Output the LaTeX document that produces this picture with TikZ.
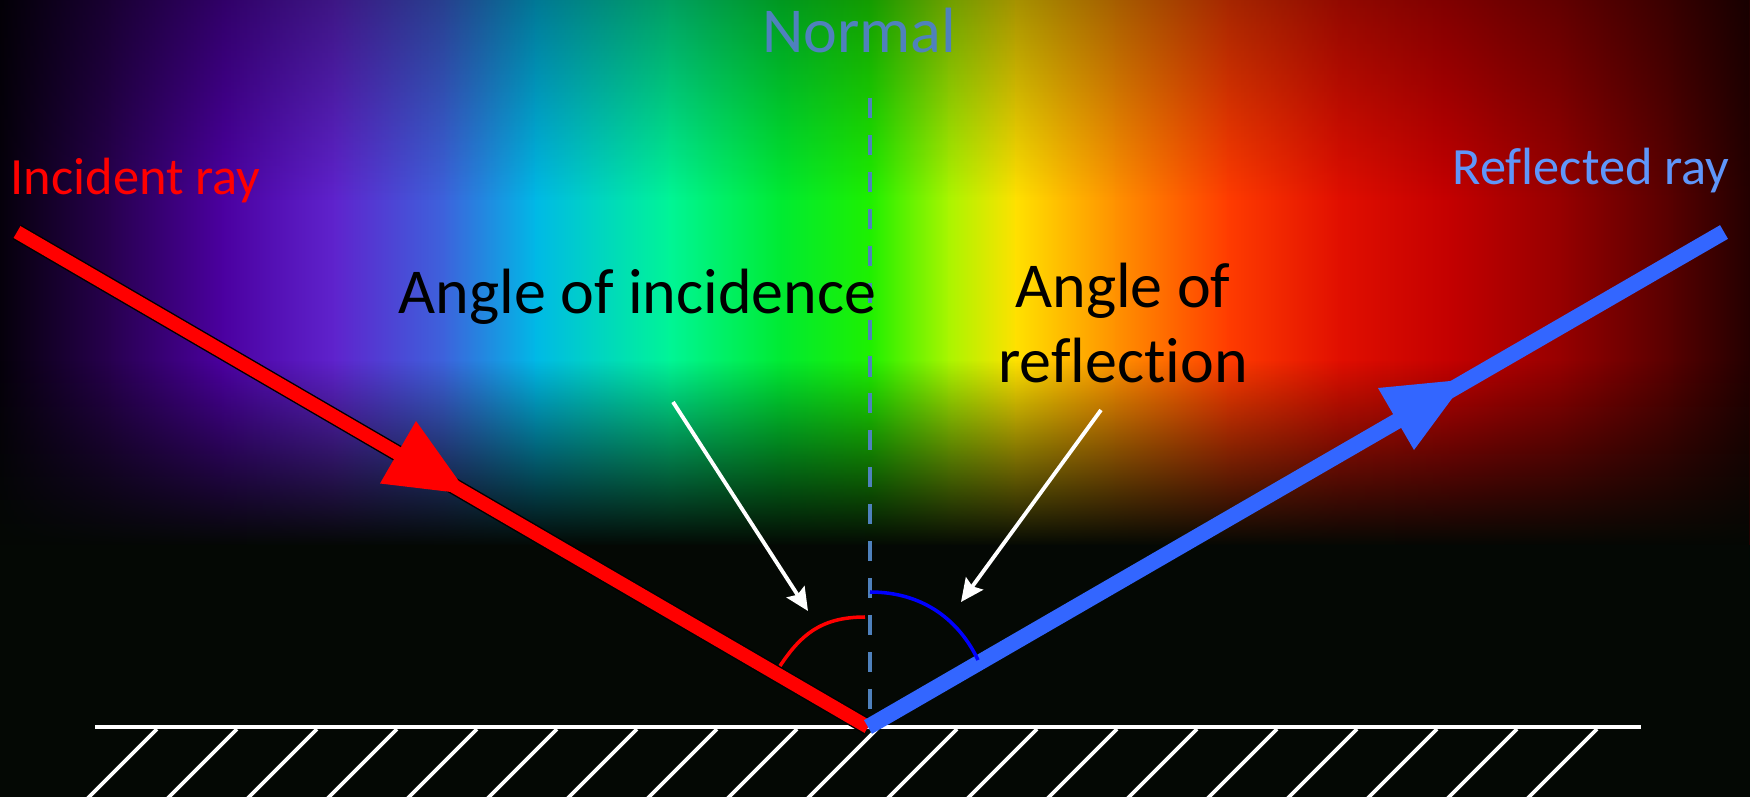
\documentclass[tikz,border=0pt]{standalone}
\usepackage{fontspec}
\setmainfont{Carlito}[Ligatures=NoCommon]
\usetikzlibrary{arrows.meta,fadings}
\definecolor{s0}{RGB}{5,0,10}
\definecolor{s1}{RGB}{40,0,80}
\definecolor{s2}{RGB}{75,0,160}
\definecolor{s3}{RGB}{95,35,205}
\definecolor{s4}{RGB}{60,100,220}
\definecolor{s5}{RGB}{0,185,230}
\definecolor{s6}{RGB}{0,245,150}
\definecolor{s7}{RGB}{0,235,50}
\definecolor{s8}{RGB}{30,240,0}
\definecolor{s9}{RGB}{170,245,0}
\definecolor{s10}{RGB}{255,225,0}
\definecolor{s11}{RGB}{255,145,0}
\definecolor{s12}{RGB}{255,60,0}
\definecolor{s13}{RGB}{225,15,0}
\definecolor{s14}{RGB}{195,0,0}
\definecolor{s15}{RGB}{150,0,0}
\definecolor{s16}{RGB}{85,0,0}
\definecolor{s17}{RGB}{35,0,0}
\definecolor{bgdark}{RGB}{4,8,4}
\definecolor{normalblue}{RGB}{79,129,189}
\definecolor{rayblue}{RGB}{51,102,255}
\definecolor{reflblue}{RGB}{95,150,250}
\tikzfading[name=fadedown, top color=transparent!100, middle color=transparent!75, bottom color=transparent!0]
\tikzfading[name=fadeup, top color=transparent!0, bottom color=transparent!100]
\begin{document}
\begin{tikzpicture}[x=0.01cm,y=-0.01cm,
  bigtext/.style={font=\fontsize{18.2pt}{22pt}\selectfont, inner sep=0pt},
  smalltext/.style={font=\fontsize{14.9pt}{18pt}\selectfont, inner sep=0pt},
  mirror/.style={white, line width=1.4pt},
  hatch/.style={white, line width=1.1pt},
  normalline/.style={normalblue, line width=1.4pt, dash pattern=on 5.7pt off 4.8pt},
  pointer/.style={white, line width=1.1pt, -{Stealth[length=6.5pt,width=6pt,inset=1pt]}},
  arcline/.style={line width=1pt}]
\useasboundingbox (0,0) rectangle (1750,797);
\begin{scope}
\clip (0,0) rectangle (1750,797);
\fill[bgdark] (0,0) rectangle (1750,797);
\foreach \xa/\xb/\ca/\cb in {0/112/s0/s1, 112/223/s1/s2, 223/335/s2/s3, 335/446/s3/s4,
  446/536/s4/s5, 536/670/s5/s6, 670/781/s6/s7, 781/870/s7/s8, 870/949/s8/s9,
  949/1016/s9/s10, 1016/1116/s10/s11, 1116/1228/s11/s12, 1228/1339/s12/s13,
  1339/1451/s13/s14, 1451/1562/s14/s15, 1562/1674/s15/s16, 1674/1750/s16/s17}
  {\shade[left color=\ca, right color=\cb] (\xa-1,0) rectangle (\xb+1,550);}
\fill[black, opacity=0.35, path fading=fadeup] (0,0) rectangle (1750,200);
\fill[bgdark, path fading=fadedown] (0,360) rectangle (1750,546);
\fill[bgdark] (0,545) rectangle (1750,797);
\end{scope}

% mirror and hatching
\coordinate (ml) at (95,727);
\coordinate (mr) at (1641,727);
\draw[mirror] (ml) -- (mr);
\foreach \k in {0,...,18}{
  \coordinate (h\k) at ({157+80*\k},729);
  \draw[hatch] (h\k) -- ++(-72,72);
}

% key points
\coordinate (ia) at (17,232);
\coordinate (o) at (868,727);
\coordinate (rb) at (1724,232);
\coordinate (ntop) at (870,98);
\coordinate (nbot) at (870,722);

\draw[normalline] (ntop) -- (nbot);

% incident ray
\draw[black, line width=4.7pt] (ia) -- (o);
\draw[red, line width=3.9pt] (ia) -- (o);
\fill[red] (416,421) -- (380,483.5) -- (468,494) -- cycle;

% reflected ray
\draw[rayblue, line width=4.5pt] (o) -- (rb);
\fill[rayblue] (1378,388) -- (1414,450) -- (1466,379.5) -- cycle;

% angle arcs
\coordinate (ra1) at (780,666);
\coordinate (ra2) at (865,617);
\draw[red, arcline] (ra1) .. controls (800,636) and (820,617) .. (ra2);
\coordinate (ba1) at (870,592);
\coordinate (ba2) at (978,660);
\draw[blue, arcline] (ba1) .. controls (925,592) and (960,622) .. (ba2);

% pointers
\coordinate (pa1) at (673,402);
\coordinate (pa2) at (808,611);
\draw[pointer] (pa1) -- (pa2);
\coordinate (pb1) at (1101,410);
\coordinate (pb2) at (961,602);
\draw[pointer] (pb1) -- (pb2);

% texts
\node[bigtext, text=normalblue, anchor=base] (normal) at (859,53) {Normal};
\node[smalltext, text=red, anchor=base west] (inc) at (10,194) {Incident ray};
\node[smalltext, text=reflblue, anchor=base west] (refl) at (1452,184) {Reflected ray};
\node[bigtext, text=black, anchor=base west] (aoi) at (398,313) {Angle of incidence};
\node[bigtext, text=black, anchor=base] (aor1) at (1123,307) {Angle of};
\node[bigtext, text=black, anchor=base] (aor2) at (1123,382) {reflection};
\end{tikzpicture}
\end{document}
